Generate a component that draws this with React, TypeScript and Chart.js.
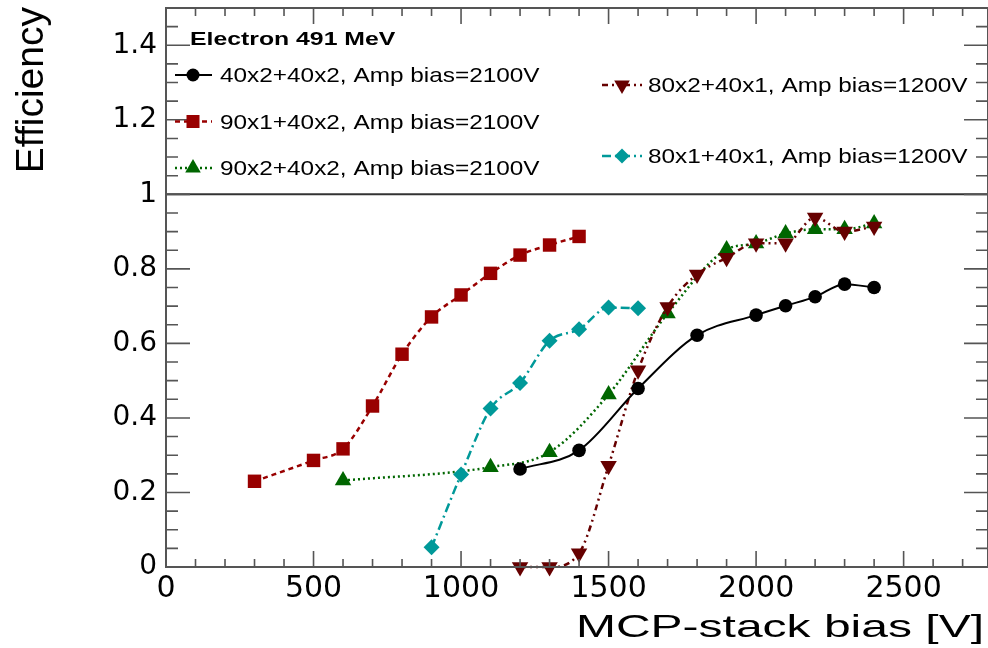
import React, { useEffect, useRef } from 'react';
import { Chart, registerables } from 'chart.js';

Chart.register(...registerables);

const W = 988;
const H = 648;

// ---- data ----
const bias4040 = [1200, 1400, 1600, 1800, 2000, 2100, 2200, 2300, 2400];
const eff4040 = [0.263, 0.313, 0.479, 0.622, 0.676, 0.701, 0.725, 0.759, 0.750];

const bias9140 = [300, 500, 600, 700, 800, 900, 1000, 1100, 1200, 1300, 1400];
const eff9140 = [0.23, 0.286, 0.317, 0.432, 0.571, 0.671, 0.730, 0.788, 0.837, 0.864, 0.887];

const bias9240 = [600, 1100, 1300, 1500, 1700, 1900, 2000, 2100, 2200, 2300, 2400];
const eff9240 = [0.232, 0.268, 0.308, 0.463, 0.680, 0.852, 0.868, 0.895, 0.906, 0.906, 0.922];

const bias8241 = [1200, 1300, 1400, 1500, 1600, 1700, 1800, 1900, 2000, 2100, 2200, 2300, 2400];
const eff8241 = [0.0, 0.0, 0.037, 0.272, 0.528, 0.698, 0.785, 0.830, 0.869, 0.869, 0.938, 0.900, 0.914];

const bias8141 = [900, 1000, 1100, 1200, 1300, 1400, 1500, 1600];
const eff8141 = [0.053, 0.248, 0.425, 0.494, 0.607, 0.638, 0.696, 0.694];

const seriesLabels = [
  '40x2+40x2, Amp bias=2100V',
  '90x1+40x2, Amp bias=2100V',
  '90x2+40x2, Amp bias=2100V',
  '80x2+40x1, Amp bias=1200V',
  '80x1+40x1, Amp bias=1200V',
];
const legendHeader = 'Electron 491 MeV';
const xTitle = 'MCP-stack bias [V]';
const yTitle = 'Efficiency';
const xTickValues = [0, 500, 1000, 1500, 2000, 2500];
const yTickValues = [0, 0.2, 0.4, 0.6, 0.8, 1, 1.2, 1.4];

// ---- styles ----
const C_BLACK = '#000000';
const C_RED = '#990000';
const C_GREEN = '#006600';
const C_DRED = '#660000';
const C_CYAN = '#009999';

const DASH_RED = [5, 4];
const DASH_GREEN = [2, 3];
const DASH_DRED = [6, 4, 2, 4, 2, 4];
const DASH_CYAN = [9, 4, 2, 4];

type Marker = 'circle' | 'rect' | 'triangle' | 'triangleDown' | 'diamond';

function drawMarker(ctx: CanvasRenderingContext2D, kind: Marker, x: number, y: number, color: string) {
  ctx.save();
  ctx.fillStyle = color;
  ctx.beginPath();
  if (kind === 'circle') {
    ctx.arc(x, y, 6.5, 0, Math.PI * 2);
  } else if (kind === 'rect') {
    ctx.rect(x - 6.5, y - 6.5, 13, 13);
  } else if (kind === 'triangle') {
    const r = 9;
    ctx.moveTo(x, y - r);
    ctx.lineTo(x + r * 0.866, y + r / 2);
    ctx.lineTo(x - r * 0.866, y + r / 2);
  } else if (kind === 'triangleDown') {
    const r = 9;
    ctx.moveTo(x, y + r);
    ctx.lineTo(x + r * 0.866, y - r / 2);
    ctx.lineTo(x - r * 0.866, y - r / 2);
  } else {
    const r = 7.5;
    ctx.moveTo(x - r, y);
    ctx.lineTo(x, y - r);
    ctx.lineTo(x + r, y);
    ctx.lineTo(x, y + r);
  }
  ctx.closePath();
  ctx.fill();
  ctx.restore();
}

function stretchText(
  ctx: CanvasRenderingContext2D,
  text: string,
  x: number,
  y: number,
  font: string,
  sx: number,
  align: 'left' | 'right' = 'left'
) {
  ctx.save();
  ctx.font = font;
  ctx.textAlign = 'left';
  ctx.textBaseline = 'alphabetic';
  ctx.fillStyle = '#000';
  const w = ctx.measureText(text).width * sx;
  const x0 = align === 'right' ? x - w : x;
  ctx.translate(x0, y);
  ctx.scale(sx, 1);
  ctx.fillText(text, 0, 0);
  ctx.restore();
}

const framePlugin = {
  id: 'rootFrame',
  afterDatasetsDraw(chart: any) {
    const { ctx, chartArea: a, scales } = chart;
    const xs = scales.x;
    const ys = scales.y;
    ctx.save();
    // reference line at efficiency = 1
    const y1 = ys.getPixelForValue(1);
    ctx.strokeStyle = '#333333';
    ctx.lineWidth = 2;
    ctx.beginPath();
    ctx.moveTo(a.left, y1);
    ctx.lineTo(a.right, y1);
    ctx.stroke();

    // frame
    ctx.strokeStyle = '#555555';
    ctx.lineWidth = 2;
    ctx.strokeRect(a.left, a.top, a.right - a.left, a.bottom - a.top);

    // x ticks (bottom + top), inward
    ctx.lineWidth = 1.6;
    for (let i = 0; i * 100 <= xs.max; i++) {
      const p = xs.getPixelForValue(i * 100);
      const len = i % 5 === 0 ? 16 : 8;
      ctx.beginPath();
      ctx.moveTo(p, a.bottom);
      ctx.lineTo(p, a.bottom - len);
      ctx.moveTo(p, a.top);
      ctx.lineTo(p, a.top + len);
      ctx.stroke();
    }
    // y ticks (left + right), inward
    for (let i = 0; i * 0.05 <= ys.max + 1e-9; i++) {
      const p = ys.getPixelForValue(i * 0.05);
      const len = i % 4 === 0 ? 24 : 12;
      ctx.beginPath();
      ctx.moveTo(a.left, p);
      ctx.lineTo(a.left + len, p);
      ctx.moveTo(a.right, p);
      ctx.lineTo(a.right - len, p);
      ctx.stroke();
    }
    ctx.restore();
  },
  afterDraw(chart: any) {
    const { ctx } = chart;
    // axis titles
    stretchText(ctx, xTitle, 984, 637, '32px "Liberation Sans", Arial, sans-serif', 1.5, 'right');
    ctx.save();
    ctx.font = '39px "Liberation Sans", Arial, sans-serif';
    ctx.fillStyle = '#000';
    ctx.textAlign = 'right';
    ctx.textBaseline = 'alphabetic';
    ctx.translate(43, 7);
    ctx.rotate(-Math.PI / 2);
    ctx.fillText(yTitle, 0, 0);
    ctx.restore();

    // legend
    stretchText(ctx, legendHeader, 190, 45, 'bold 18.5px "Liberation Sans", Arial, sans-serif', 1.34);
    const entries: { lx0: number; lx1: number; mx: number; my: number; tx: number; ty: number; color: string; dash: number[]; lw: number; m: Marker; label: string }[] = [
      { lx0: 175, lx1: 212, mx: 193, my: 75, tx: 220, ty: 82, color: C_BLACK, dash: [], lw: 2, m: 'circle', label: seriesLabels[0] },
      { lx0: 175, lx1: 212, mx: 193, my: 121.5, tx: 220, ty: 128.5, color: C_RED, dash: DASH_RED, lw: 2.5, m: 'rect', label: seriesLabels[1] },
      { lx0: 175, lx1: 212, mx: 193, my: 168, tx: 220, ty: 175, color: C_GREEN, dash: DASH_GREEN, lw: 2.5, m: 'triangle', label: seriesLabels[2] },
      { lx0: 602, lx1: 642, mx: 622, my: 85, tx: 648, ty: 92, color: C_DRED, dash: DASH_DRED, lw: 2.5, m: 'triangleDown', label: seriesLabels[3] },
      { lx0: 602, lx1: 642, mx: 622, my: 156, tx: 648, ty: 163, color: C_CYAN, dash: DASH_CYAN, lw: 2.5, m: 'diamond', label: seriesLabels[4] },
    ];
    for (const e of entries) {
      ctx.save();
      ctx.strokeStyle = e.color;
      ctx.lineWidth = e.lw;
      ctx.setLineDash(e.dash);
      ctx.beginPath();
      ctx.moveTo(e.lx0, e.my);
      ctx.lineTo(e.lx1, e.my);
      ctx.stroke();
      ctx.restore();
      drawMarker(ctx, e.m, e.mx, e.my, e.color);
      stretchText(ctx, e.label, e.tx, e.ty, '21px "Liberation Sans", Arial, sans-serif', 1.16);
    }
  },
};

function pts(xs: number[], ys: number[]) {
  return xs.map((x, i) => ({ x, y: ys[i] }));
}

export default function App() {
  const ref = useRef<HTMLCanvasElement>(null);

  useEffect(() => {
    if (!ref.current) return;
    const common = {
      showLine: true,
      cubicInterpolationMode: 'monotone' as const,
      clip: false as any,
      pointBorderWidth: 0,
      pointHoverRadius: 0,
    };
    const chart = new Chart(ref.current, {
      type: 'line',
      data: {
        datasets: [
          {
            ...common,
            label: seriesLabels[0],
            data: pts(bias4040, eff4040),
            borderColor: C_BLACK,
            backgroundColor: C_BLACK,
            pointBackgroundColor: C_BLACK,
            pointBorderColor: C_BLACK,
            borderWidth: 2,
            pointStyle: 'circle',
            pointRadius: 6.8,
            order: 0,
          },
          {
            ...common,
            label: seriesLabels[1],
            data: pts(bias9140, eff9140),
            borderColor: C_RED,
            backgroundColor: C_RED,
            pointBackgroundColor: C_RED,
            pointBorderColor: C_RED,
            borderWidth: 2.5,
            borderDash: DASH_RED,
            pointStyle: 'rect',
            pointRadius: 9.5,
            order: 4,
          },
          {
            ...common,
            label: seriesLabels[2],
            data: pts(bias9240, eff9240),
            borderColor: C_GREEN,
            backgroundColor: C_GREEN,
            pointBackgroundColor: C_GREEN,
            pointBorderColor: C_GREEN,
            borderWidth: 2.5,
            borderDash: DASH_GREEN,
            pointStyle: 'triangle',
            pointRadius: 9.5,
            order: 3,
          },
          {
            ...common,
            label: seriesLabels[3],
            data: pts(bias8241, eff8241),
            borderColor: C_DRED,
            backgroundColor: C_DRED,
            pointBackgroundColor: C_DRED,
            pointBorderColor: C_DRED,
            borderWidth: 2.5,
            borderDash: DASH_DRED,
            pointStyle: 'triangle',
            pointRotation: 180,
            pointRadius: 9.5,
            order: 2,
          },
          {
            ...common,
            label: seriesLabels[4],
            data: pts(bias8141, eff8141),
            borderColor: C_CYAN,
            backgroundColor: C_CYAN,
            pointBackgroundColor: C_CYAN,
            pointBorderColor: C_CYAN,
            borderWidth: 2.5,
            borderDash: DASH_CYAN,
            pointStyle: 'rectRot',
            pointRadius: 8,
            order: 1,
          },
        ],
      },
      options: {
        responsive: false,
        animation: false,
        devicePixelRatio: 1,
        events: [],
        layout: { autoPadding: false, padding: { top: 8, left: 0, right: 0, bottom: 0 } },
        plugins: {
          legend: { display: false },
          tooltip: { enabled: false },
          title: { display: false },
        },
        scales: {
          x: {
            type: 'linear',
            min: 0,
            max: 2786,
            afterBuildTicks: (s: any) => {
              s.ticks = xTickValues.map((v) => ({ value: v }));
            },
            afterFit: (s: any) => {
              s.height = 81;
              s.paddingLeft = 0;
              s.paddingRight = 0;
              s.paddingTop = 0;
              s.paddingBottom = 0;
            },
            grid: { display: false, drawTicks: false },
            border: { display: false },
            ticks: {
              autoSkip: false,
              maxRotation: 0,
              padding: 4,
              color: '#000',
              font: { family: '"DejaVu Sans", sans-serif', size: 30 },
              callback: (v: any) => String(v),
            },
          },
          y: {
            type: 'linear',
            min: 0,
            max: 1.5,
            afterBuildTicks: (s: any) => {
              s.ticks = yTickValues.map((v) => ({ value: v }));
            },
            afterFit: (s: any) => {
              s.width = 166;
              s.paddingLeft = 0;
              s.paddingRight = 0;
              s.paddingTop = 0;
              s.paddingBottom = 0;
            },
            grid: { display: false, drawTicks: false },
            border: { display: false },
            ticks: {
              autoSkip: false,
              padding: 9,
              color: '#000',
              font: { family: '"DejaVu Sans", sans-serif', size: 28 },
              callback: (v: any) => String(Math.round(Number(v) * 10) / 10),
            },
          },
        },
      },
      plugins: [framePlugin],
    });
    return () => chart.destroy();
  }, []);

  return (
    <div style={{ position: 'absolute', left: 0, top: 0, width: W, height: H, background: '#fff' }}>
      <canvas ref={ref} width={W} height={H} style={{ display: 'block' }} />
    </div>
  );
}
